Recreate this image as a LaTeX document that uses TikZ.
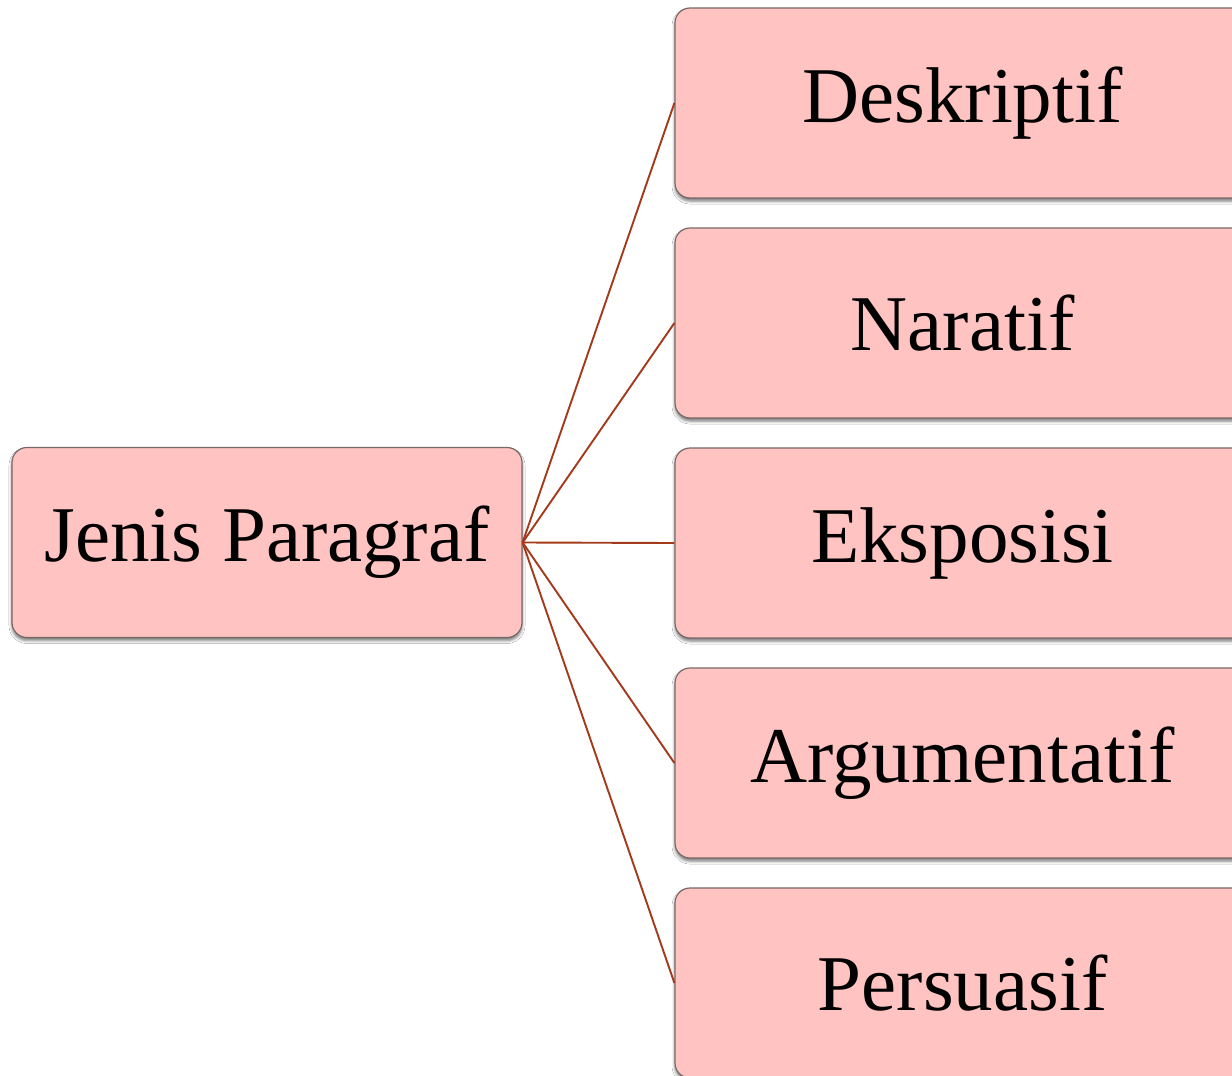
\documentclass[tikz,border=0pt]{standalone}
\usepackage{fontspec}
\setmainfont{Liberation Serif}
\usetikzlibrary{shadows,shadows.blur}
\definecolor{boxfill}{HTML}{FFC4C1}
\definecolor{boxline}{HTML}{7A6866}
\definecolor{linkc}{HTML}{A33A1B}
\tikzset{
  pbox/.style={draw=boxline, line width=1.2pt, fill=boxfill, rounded corners=15pt,
    inner sep=0pt, minimum height=190pt, font=\fontsize{79}{90}\selectfont,
    blur shadow={shadow xshift=0pt, shadow yshift=-3pt, shadow blur radius=3pt, shadow opacity=55}},
  rootbox/.style={pbox, minimum width=510pt},
  childbox/.style={pbox, minimum width=575pt},
  link/.style={draw=linkc, line width=1.9pt}
}
\begin{document}
\begin{tikzpicture}[x=1pt,y=-1pt]
\clip (0,0) rectangle (1232,1076);
\fill[white] (0,0) rectangle (1232,1076);
\node[rootbox] (root) at (267,542.5) {Jenis Paragraf};
\node[childbox] (c1) at (962.5,103) {Deskriptif};
\node[childbox] (c2) at (962.5,323) {Naratif};
\node[childbox] (c3) at (962.5,543) {Eksposisi};
\node[childbox] (c4) at (962.5,763) {Argumentatif};
\node[childbox] (c5) at (962.5,983) {Persuasif};
\foreach \c in {c1,c2,c3,c4,c5}{
  \draw[link] (root.east) -- (\c.west);
}
\end{tikzpicture}
\end{document}
